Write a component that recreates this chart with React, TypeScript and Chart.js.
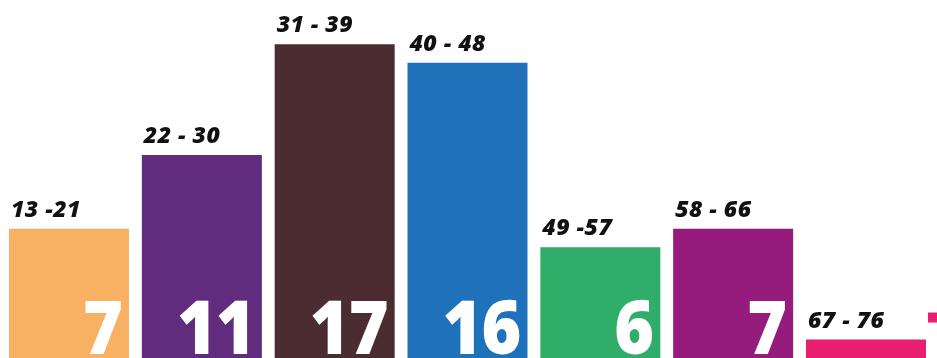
import React, { useEffect, useRef } from "react";
import { Chart, registerables } from "chart.js";

Chart.register(...registerables);

const categories = ["13 -21", "22 - 30", "31 - 39", "40 - 48", "49 -57", "58 - 66", "67 - 76"];
const values = [7, 11, 17, 16, 6, 7, 1];
const colors = ["#F8B063", "#612C7D", "#4A2C31", "#1F72BA", "#30AD69", "#951C7D", "#E91E70"];

const labelPlugin = {
  id: "barLabels",
  afterDatasetsDraw(chart: any) {
    const ctx = chart.ctx;
    const meta = chart.getDatasetMeta(0);
    ctx.save();
    meta.data.forEach((bar: any, i: number) => {
      const left = bar.x - bar.width / 2;
      const right = bar.x + bar.width / 2;
      ctx.fillStyle = "#111111";
      ctx.font = "italic 800 23px 'Open Sans'";
      ctx.textAlign = "left";
      ctx.textBaseline = "alphabetic";
      (ctx as any).letterSpacing = "0.5px";
      ctx.fillText(String(chart.data.labels[i]), left + 2, bar.y - 12);
      if (values[i] > 3) {
        ctx.save();
        ctx.beginPath();
        ctx.rect(left, bar.y, bar.width, bar.base - bar.y);
        ctx.clip();
        ctx.fillStyle = "#ffffff";
        ctx.font = "800 74px 'Open Sans'";
        (ctx as any).letterSpacing = "-1px";
        ctx.textAlign = "right";
        ctx.textBaseline = "alphabetic";
        ctx.translate(right - 7, bar.base - 4);
        ctx.scale(0.92, 1);
        ctx.fillText(String(values[i]), 0, 0);
        ctx.restore();
      }
    });
    const last = meta.data[meta.data.length - 1];
    if (last) {
      ctx.fillStyle = colors[colors.length - 1];
      ctx.fillRect(last.x + last.width / 2 + 2, last.y - 27, 10, 10);
    }
    ctx.restore();
  },
};

export default function App() {
  const ref = useRef<HTMLCanvasElement>(null);
  useEffect(() => {
    document.body.style.margin = "0";
    const chart = new Chart(ref.current!, {
      type: "bar",
      data: {
        labels: categories,
        datasets: [
          {
            data: values,
            backgroundColor: colors,
            borderWidth: 0,
            barPercentage: 0.9034,
            categoryPercentage: 1,
          },
        ],
      },
      options: {
        animation: false,
        responsive: true,
        maintainAspectRatio: false,
        layout: { padding: { left: 2.6, right: 4.6, top: 0, bottom: 0 } },
        plugins: { legend: { display: false }, tooltip: { enabled: false } },
        scales: {
          x: { display: false },
          y: { display: false, min: 0, max: 19.4 },
        },
      },
      plugins: [labelPlugin],
    });
    return () => chart.destroy();
  }, []);
  return (
    <div style={{ width: 937, height: 358, position: "relative" }}>
      <canvas ref={ref} />
    </div>
  );
}
